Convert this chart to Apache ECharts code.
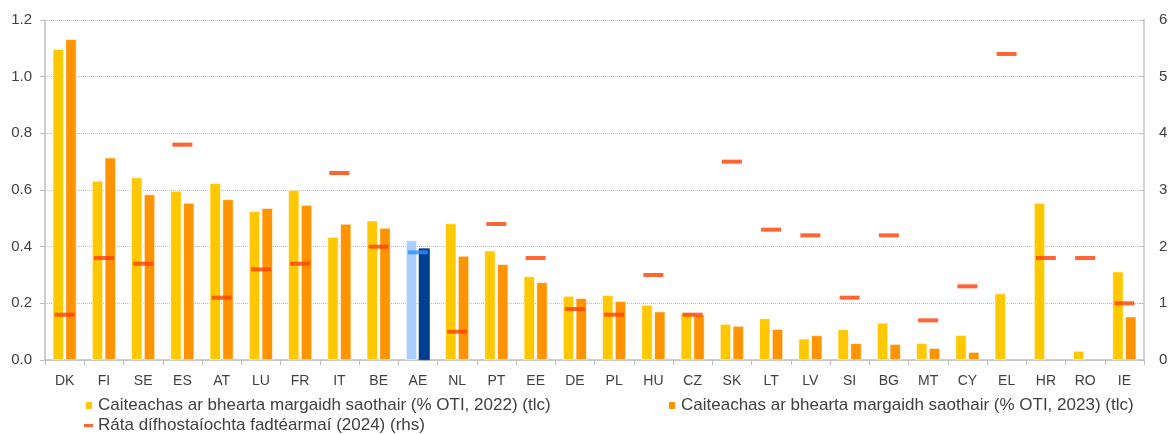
<!DOCTYPE html>
<html>
<head>
<meta charset="utf-8">
<script src="https://cdn.jsdelivr.net/npm/echarts@6/dist/echarts.min.js"></script>
<style>
  html, body { margin: 0; padding: 0; background: #ffffff; }
  #chart { width: 1171px; height: 434px; }
</style>
</head>
<body>
<div id="chart"></div>
<script>
// Country codes along the x axis
const categories = ['DK','FI','SE','ES','AT','LU','FR','IT','BE','AE','NL','PT','EE','DE','PL','HU','CZ','SK','LT','LV','SI','BG','MT','CY','EL','HR','RO','IE'];

// Labour market policy spending, % of GDP (left axis)
const spend2022 = [1.097,0.632,0.644,0.597,0.624,0.525,0.600,0.434,0.492,0.422,0.482,0.386,0.295,0.226,0.229,0.194,0.165,0.127,0.147,0.075,0.108,0.131,0.059,0.088,0.235,0.554,0.032,0.312];
const spend2023 = [1.132,0.714,0.584,0.554,0.567,0.536,0.547,0.480,0.466,0.394,0.367,0.338,0.274,0.218,0.208,0.171,0.159,0.120,0.109,0.087,0.059,0.056,0.042,0.028,null,null,null,0.153];

// Long-term unemployment rate, 2024 (right axis)
const ltUnemp2024 = [0.8,1.8,1.7,3.8,1.1,1.6,1.7,3.3,2.0,1.9,0.5,2.4,1.8,0.9,0.8,1.5,0.8,3.5,2.3,2.2,1.1,2.2,0.7,1.3,5.4,1.8,1.8,1.0];

const leftTicks = ['0.0','0.2','0.4','0.6','0.8','1.0','1.2'];

const seriesNames = [
  'Caiteachas ar bhearta margaidh saothair (% OTI, 2022) (tlc)',
  'Caiteachas ar bhearta margaidh saothair (% OTI, 2023) (tlc)',
  'Ráta dífhostaíochta fadtéarmaí (2024) (rhs)'
];

const YELLOW = '#FFC800';
const ORANGE = '#FF9300';
const RED = '#FF4000';
const AE_LIGHT = '#A8CFFF';
const AE_DARK = '#003F8F';
const AE_DASH = '#2E90FF';
const FONT = 'Liberation Sans';
const TEXT = '#404040';

const aeIdx = categories.indexOf('AE');

function withHighlight(arr, color, border) {
  return arr.map((v, i) => i === aeIdx
    ? { value: v, itemStyle: { color: color, borderColor: border || '#ffffff' } }
    : v);
}

const chart = echarts.init(document.getElementById('chart'), null, { renderer: 'canvas' });

const legendBase = {
  itemWidth: 8,
  itemHeight: 9,
  itemGap: 6,
  padding: 0,
  textStyle: { fontFamily: FONT, fontSize: 17, color: TEXT },
  selectedMode: false
};

chart.setOption({
  animation: false,
  backgroundColor: '#ffffff',
  grid: { left: 45, right: 27, top: 20, bottom: 74, containLabel: false },
  legend: [
    Object.assign({}, legendBase, { data: [{ name: seriesNames[0], icon: 'rect' }], left: 84, top: 397 }),
    Object.assign({}, legendBase, { data: [{ name: seriesNames[1], icon: 'rect' }], left: 667, top: 397 }),
    Object.assign({}, legendBase, {
      data: [{ name: seriesNames[2], icon: 'rect' }],
      left: 84, top: 417, itemWidth: 9, itemHeight: 3
    })
  ],
  xAxis: {
    type: 'category',
    data: categories,
    boundaryGap: true,
    axisLine: { lineStyle: { color: '#BFBFBF', width: 1.5 } },
    axisTick: { show: true, length: 5, lineStyle: { color: '#BFBFBF' } },
    axisLabel: { fontFamily: FONT, fontSize: 14, color: TEXT, margin: 14, interval: 0 }
  },
  yAxis: [
    {
      type: 'value',
      min: 0, max: 1.2, interval: 0.2,
      axisLine: { show: true, lineStyle: { color: '#BFBFBF', width: 1.5 } },
      axisTick: { show: true, length: 5, lineStyle: { color: '#BFBFBF' } },
      axisLabel: {
        fontFamily: FONT, fontSize: 15, color: TEXT, margin: 13,
        formatter: v => leftTicks[Math.round(v / 0.2)]
      },
      splitLine: { show: true, lineStyle: { color: '#BDBDBD', type: [1, 1], width: 1 } }
    },
    {
      type: 'value',
      min: 0, max: 6, interval: 1,
      position: 'right',
      axisLine: { show: true, lineStyle: { color: '#D4D4D4', width: 2 } },
      axisTick: { show: true, inside: true, length: 5, lineStyle: { color: '#BFBFBF' } },
      axisLabel: { fontFamily: FONT, fontSize: 15, color: TEXT, margin: 15 },
      splitLine: { show: false }
    }
  ],
  series: [
    {
      name: seriesNames[0],
      type: 'bar',
      yAxisIndex: 0,
      data: withHighlight(spend2022, AE_LIGHT),
      itemStyle: { color: YELLOW, borderColor: '#ffffff', borderWidth: 0.6 },
      barWidth: 11,
      barGap: '16%'
    },
    {
      name: seriesNames[1],
      type: 'bar',
      yAxisIndex: 0,
      data: withHighlight(spend2023, AE_DARK, '#00306E'),
      itemStyle: { color: ORANGE, borderColor: '#ffffff', borderWidth: 0.6 },
      barWidth: 11,
      barGap: '16%'
    },
    {
      name: seriesNames[2],
      type: 'scatter',
      yAxisIndex: 1,
      symbol: 'rect',
      symbolSize: [20, 4],
      data: withHighlight(ltUnemp2024, AE_DASH, AE_DASH),
      itemStyle: { color: RED, borderColor: RED, borderWidth: 0 },
      z: 5
    }
  ]
});
</script>
</body>
</html>
